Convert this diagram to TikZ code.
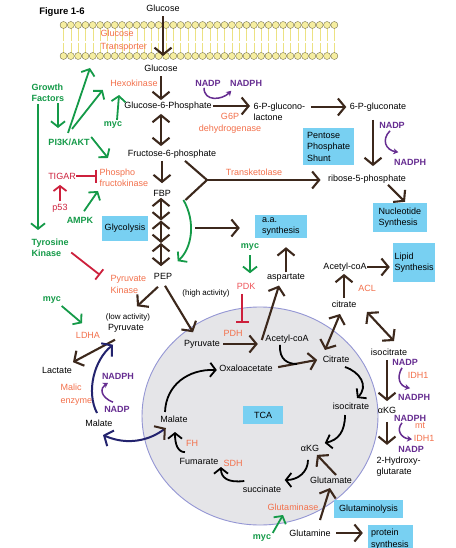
\documentclass[tikz,border=0pt]{standalone}
\usepackage{fontspec}
\setmainfont{Liberation Sans}
\usetikzlibrary{arrows.meta,calc}
\definecolor{brn}{RGB}{60,40,28}
\definecolor{grn}{RGB}{20,154,72}
\definecolor{org}{RGB}{243,112,75}
\definecolor{rd}{RGB}{205,32,60}
\definecolor{pnk}{RGB}{238,85,90}
\definecolor{pur}{RGB}{102,45,145}
\definecolor{nav}{RGB}{35,35,110}
\definecolor{bbox}{RGB}{120,208,242}
\definecolor{mito}{RGB}{229,229,232}
\definecolor{mitoedge}{RGB}{148,150,212}
\definecolor{headc}{RGB}{246,238,160}
\definecolor{headedge}{RGB}{110,105,70}
\definecolor{tailc}{RGB}{236,226,130}
\begin{document}
\begin{tikzpicture}[x=1pt,y=-1pt,
  base/.style={inner sep=0.5pt, font=\fontsize{9}{11}\selectfont},
  lbl/.style={base, text=black},
  enz/.style={base, text=org},
  rtx/.style={base, text=rd},
  ktx/.style={base, text=pnk},
  gtx/.style={base, text=grn, font=\fontsize{9}{11}\selectfont\bfseries},
  ptx/.style={base, text=pur, font=\fontsize{9}{11}\selectfont\bfseries},
  sml/.style={inner sep=0.5pt, text=black, font=\fontsize{8}{9}\selectfont},
  bx/.style={fill=bbox, text=black, font=\fontsize{9}{11.5}\selectfont, inner sep=0pt, align=left},
  barr/.style={draw=brn, line width=2.1pt, -{Straight Barb[length=7pt,width=17pt]}},
  bdbl/.style={draw=brn, line width=2.1pt, {Straight Barb[length=7pt,width=17pt]}-{Straight Barb[length=7pt,width=17pt]}},
  garr/.style={draw=grn, line width=1.8pt, -{Straight Barb[length=5.5pt,width=14pt]}},
  rarr/.style={draw=rd, line width=1.8pt, -{Straight Barb[length=5pt,width=13pt]}},
  karr/.style={draw=black, line width=1.8pt, -{Straight Barb[length=5.5pt,width=14pt]}},
  inh/.style={draw=rd, line width=1.8pt, -{Bar[width=13pt]}},
  parr/.style={draw=pur, line width=1.5pt, -{Stealth[length=5pt,width=6pt]}},
  nvarr/.style={draw=nav, line width=2pt, -{Straight Barb[length=7pt,width=17pt]}},
]
\useasboundingbox (0,0) rectangle (455,548);
\fill[white] (0,0) rectangle (455,548);

% membrane
\foreach \i in {0,...,37}{
  \pgfmathsetmacro{\xx}{63.5+7.32*\i}
  \draw[tailc, line width=0.4pt] (\xx,28) -- (\xx,41) (\xx,53) -- (\xx,43);
}
\foreach \i in {0,...,37}{
  \pgfmathsetmacro{\xx}{63.5+7.32*\i}
  \draw[draw=headedge, fill=headc, line width=0.35pt] (\xx,25) circle (3.5pt) (\xx,56) circle (3.5pt);
}

% mitochondrion
\draw[draw=mitoedge, fill=mito, line width=0.9pt] (260,416) ellipse [x radius=118pt, y radius=109pt];

% ---------- nodes ----------
\node[lbl, font=\fontsize{9.5}{11}\selectfont\bfseries] (fig) at (62,12) {Figure 1-6};
\node[lbl] (glc1) at (163,8) {Glucose};
\node[enz, align=left, anchor=west, font=\fontsize{9}{13}\selectfont] (transp) at (100,40.5) {Glucose\\Transporter};
\node[lbl] (glc2) at (161,68) {Glucose};
\node[enz] (hexo) at (134,83) {Hexokinase};
\node[lbl] (g6p) at (168,106) {Glucose-6-Phosphate};
\node[ptx] (nadp1) at (208,83) {NADP};
\node[ptx] (nadph1) at (246,83) {NADPH};
\node[enz, align=center, font=\fontsize{9}{12}\selectfont] (g6pd) at (230,123) {G6P\\dehydrogenase};
\node[lbl, align=left, anchor=west, font=\fontsize{9}{10.5}\selectfont] (lact) at (253,112) {6-P-glucono-\\lactone};
\node[lbl] (gluc6) at (378,107) {6-P-gluconate};
\node[ptx] (nadp2) at (392,125) {NADP};
\node[ptx] (nadph2) at (410,162) {NADPH};
\node[bx, minimum width=51pt, minimum height=37pt, text width=43pt] (pps) at (328.5,146.5) {Pentose\\Phosphate\\Shunt};
\node[lbl] (r5p) at (367,179) {ribose-5-phosphate};
\node[enz] (transk) at (254,172) {Transketolase};
\node[bx, minimum width=54pt, minimum height=29pt, text width=43pt] (nuc) at (400,217.5) {Nucleotide\\Synthesis};
\node[lbl] (f6p) at (172,154) {Fructose-6-phosphate};
\node[enz, align=left, anchor=west] (pfk) at (99,177.5) {Phospho\\fructokinase};
\node[rtx] (tigar) at (62,176) {TIGAR};
\node[rtx] (p53) at (60,208) {p53};
\node[gtx] (ampk) at (80,220) {AMPK};
\node[gtx] (pi3k) at (69,142) {PI3K/AKT};
\node[gtx, align=left, anchor=west] (gf) at (31,92.5) {Growth\\Factors};
\node[gtx, align=left, anchor=west] (tk) at (31,247.5) {Tyrosine\\Kinase};
\node[gtx] (myc1) at (113,125) {myc};
\node[lbl] (fbp) at (162,193) {FBP};
\node[bx, minimum width=46pt, minimum height=25pt, align=center] (glyco) at (125,228.5) {Glycolysis};
\node[lbl] (pep) at (163,276) {PEP};
\node[bx, minimum width=52pt, minimum height=23pt, text width=38pt] (aa) at (281,226.5) {a.a.\\synthesis};
\node[gtx] (myc2) at (250,247) {myc};
\node[ktx] (pdk) at (246,286) {PDK};
\node[enz] (pdh) at (233,333) {PDH};
\node[lbl] (asp) at (286,278) {aspartate};
\node[enz, align=left, anchor=west, font=\fontsize{9}{12}\selectfont] (pk) at (110,284) {Pyruvate\\Kinase};
\node[sml] (lowact) at (128,317) {(low activity)};
\node[lbl] (pyr1) at (126,328) {Pyruvate};
\node[sml] (highact) at (206,293) {(high activity)};
\node[enz] (ldha) at (88,335) {LDHA};
\node[gtx] (myc3) at (52,300) {myc};
\node[lbl] (lac) at (57,370) {Lactate};
\node[enz, align=left, anchor=west, font=\fontsize{9}{13}\selectfont] (malic) at (60,394.5) {Malic\\enzyme};
\node[ptx] (nadph3) at (118,376) {NADPH};
\node[ptx] (nadp3) at (117,409) {NADP};
\node[lbl] (mal1) at (99,423) {Malate};
\node[lbl] (pyr2) at (202,344) {Pyruvate};
\node[lbl] (acoa1) at (287,339) {Acetyl-coA};
\node[lbl] (oaa) at (246,368) {Oxaloacetate};
\node[lbl] (cit1) at (336,359) {Citrate};
\node[lbl] (iso1) at (351,406) {isocitrate};
\node[lbl] (akg1) at (310,448) {αKG};
\node[lbl] (succ) at (262,489) {succinate};
\node[enz] (sdh) at (233,463) {SDH};
\node[lbl] (fum) at (199,461) {Fumarate};
\node[enz] (fh) at (192,443) {FH};
\node[lbl] (mal2) at (174,419) {Malate};
\node[bx, minimum width=40pt, minimum height=18pt, align=center] (tca) at (263,415) {TCA};
\node[lbl] (acoa2) at (345,267) {Acetyl-coA};
\node[bx, minimum width=42pt, minimum height=39pt, text width=39pt] (lipid) at (414,262.5) {Lipid\\Synthesis};
\node[lbl] (cit2) at (344,304) {citrate};
\node[enz] (acl) at (367,288) {ACL};
\node[lbl] (iso2) at (389,352) {isocitrate};
\node[ptx] (nadp4) at (405,362) {NADP};
\node[enz] (idh1a) at (418,375) {IDH1};
\node[ptx] (nadph4) at (414,397) {NADPH};
\node[lbl] (akg2) at (387,410) {αKG};
\node[ptx] (nadph5) at (410,418) {NADPH};
\node[enz] (mt) at (420,426) {mt};
\node[enz] (idh1b) at (424,438) {IDH1};
\node[ptx] (nadp5) at (411,449) {NADP};
\node[lbl, align=left, anchor=west] (hg) at (376,466.5) {2-Hydroxy-\\glutarate};
\node[lbl] (glu) at (331,480) {Glutamate};
\node[lbl] (gln) at (310,533) {Glutamine};
\node[enz] (gase) at (293,507) {Glutaminase};
\node[gtx] (myc4) at (262,538) {myc};
\node[bx, minimum width=69pt, minimum height=18pt, align=center] (glnlys) at (368.5,509) {Glutaminolysis};
\node[bx, minimum width=45pt, minimum height=28pt, text width=39pt] (prot) at (390.5,539) {protein\\synthesis};

% ---------- brown connectors ----------
\draw[barr, shorten <=4pt, shorten >=8pt] (glc1.south) -- (glc1.south |- glc2.north);
\draw[barr, shorten <=4pt, shorten >=1pt] (glc2.south) -- (glc2.south |- g6p.north);
\draw[bdbl, shorten <=3pt, shorten >=3pt] (glc2 |- g6p.south) -- (glc2 |- f6p.north);
\draw[barr, shorten <=2pt, shorten >=6pt] (fbp |- f6p.south) -- (fbp.north);
\coordinate (g1) at (161,220.5);
\coordinate (g2) at (161,243);
\draw[bdbl, shorten <=1pt] (fbp.south -| g1) -- (g1);
\draw[bdbl] (g1) -- (g2);
\draw[bdbl, shorten >=6pt] (g2) -- (g2 |- pep.north);
\draw[barr, shorten <=1pt, shorten >=3pt] (g6p.east) -- (lact.west |- g6p.east);
\draw[barr, shorten <=5pt, shorten >=3pt] (lact.east |- gluc6.west) -- (gluc6.west);
\coordinate (v1) at ($(gluc6.south)+(-5,0)$);
\draw[barr, shorten <=8pt, shorten >=8pt] (v1) -- (v1 |- r5p.north);
\coordinate (tkj) at (207,180);
\draw[brn, line width=2.1pt] ($(f6p.south)+(13,2)$) -- (tkj) -- ($(fbp.east)+(14,7)$);
\draw[barr, shorten >=7pt] (tkj) -- (tkj -| r5p.west);
\draw[barr] ($(r5p.south)+(21,1)$) -- ($(nuc.north)+(5,-1)$);
\coordinate (glo) at (195,228);
\draw[barr, shorten >=15pt] (glo) -- (glo -| aa.west);
\draw[barr, shorten <=1pt, shorten >=9pt] (asp.north) -- (asp.north |- aa.south);
\draw[barr] ($(acoa1.west)+(-3,1)$) -- ($(asp.south)+(-7,3)$);
\draw[barr, shorten <=3pt, shorten >=7pt] (pyr2.east) -- (pyr2.east -| acoa1.west);
\draw[barr, shorten <=5pt, shorten >=5pt] (oaa.east) -- (cit1.west);
\draw[black, line width=1.8pt] ($(acoa1.south)+(-7,1)$) .. controls (279,360) and (288,364) .. (297,364);
\draw[barr] ($(pep.south)+(-5,7)$) -- ($(pyr1.north)+(11,-17)$);
\draw[barr] ($(pep.south)+(2,6)$) -- ($(pyr2.north)+(-9,-7)$);
\draw[barr] ($(pyr1.south)+(-11,7)$) -- ($(lac.north)+(16,-4)$);
\draw[barr, shorten <=2pt, shorten >=2pt] (cit2.north) -- (cit2.north |- acoa2.south);
\draw[barr, shorten >=3pt] (acoa2.east) -- (acoa2.east -| lipid.west);
\draw[bdbl] ($(cit2.south)+(-4,6)$) -- ($(cit1.north)+(-11,-5)$);
\draw[bdbl] ($(cit2.east)+(10,8)$) -- ($(iso2.north)+(5,-7)$);
\draw[barr, shorten <=4pt, shorten >=5pt] (iso2.south -| akg2) -- (akg2.north);
\draw[barr, shorten <=8pt] (akg2.south) -- ++(0,31);
\draw[barr] ($(glu.north)+(5,-1)$) -- ($(akg1.south)+(7,3)$);
\draw[barr] ($(gln.north)+(10,-9)$) -- ($(glu.south)+(-1,4)$);
\draw[barr, shorten <=5pt, shorten >=5pt] (gln.east) -- (gln.east -| prot.west);

% ---------- green ----------
\coordinate (gtin) at (90,68);
\draw[garr] ($(gf.south west)+(7,2)$) -- ($(tk.north west)+(7,-8)$);
\draw[garr] ($(gf.south west)+(27,1)$) -- ($(pi3k.north)+(-11,-10)$);
\draw[garr] ($(pi3k.north)+(-1,-5)$) -- (gtin);
\draw[garr] ($(pi3k.north)+(3,-9)$) -- ($(hexo.west)+(-7,7)$);
\draw[garr] ($(myc1.north)+(4,-1)$) -- ($(hexo.south)+(-15,8)$);
\draw[garr] ($(pi3k.north east)+(1,-1)$) -- ($(pfk.north west)+(9,-10)$);
\draw[garr] ($(ampk.north)+(4,-5)$) -- ($(pfk.south west)+(-1,4)$);
\draw[garr] ($(fbp.east)+(12,7)$) .. controls (196,222) and (192,248) .. ($(pep.north east)+(5,-11)$);
\draw[garr, shorten <=4pt, shorten >=9pt] (myc2.south) -- (myc2.south |- pdk.north);
\draw[garr] ($(myc3.east)+(0,6)$) -- ($(ldha.north)+(-6,-8)$);
\draw[garr] ($(myc4.north east)+(1,-1)$) -- ($(gase.south)+(-10,4)$);

% ---------- red ----------
\draw[inh, shorten >=2pt] (tigar.east) -- (tigar.east -| pfk.west);
\draw[rarr, shorten <=2pt, shorten >=5pt] (p53.north) -- (p53.north |- tigar.south);
\draw[inh] ($(tk.east)+(2,5)$) -- ($(pk.west)+(-10,-9)$);
\coordinate (pk1) at ($(pdk.south)+(-4,4)$);
\coordinate (pk2) at ($(pdh.north)+(9,-6)$);
\draw[inh] (pk1) -- (pk1 |- pk2);

% ---------- TCA (black) ----------
\draw[karr] ($(mal2.north)+(-9,-3)$) .. controls (166,385) and (188,369) .. ($(oaa.west)+(-2,2)$);
\draw[karr] ($(cit1.south)+(9,4)$) .. controls (360,372) and (369,386) .. ($(iso1.north)+(6,-4)$);
\draw[karr] ($(iso1.south)+(-6,5)$) .. controls (345,432) and (338,440) .. ($(akg1.east)+(5,-5)$);
\draw[karr] ($(akg1.south)+(-2,8)$) .. controls (308,472) and (298,480) .. ($(succ.north east)+(3,-5)$);
\draw[karr] ($(succ.north west)+(2,-4)$) .. controls (228,483) and (221,478) .. ($(fum.east)+(2,6)$);
\draw[karr] ($(fum.north)+(-14,-5)$) .. controls (178,452) and (175,445) .. ($(mal2.south)+(1,9)$);

% ---------- purple ----------
\draw[parr] ($(nadp1.south)+(-4,1)$) .. controls (204,102) and (222,100) .. ($(nadph1.south west)+(2,4)$);
\draw[parr] ($(nadp2.south)+(-2,2)$) .. controls (381,140) and (386,150) .. ($(nadph2.north west)+(5,-6)$);
\draw[parr] ($(nadp3.north)+(-4,-3)$) .. controls (100,397) and (100,388) .. ($(nadph3.south)+(-10,3)$);
\draw[parr] ($(nadp4.south)+(-3,2)$) .. controls (396,378) and (400,386) .. ($(nadph4.north)+(-4,-5)$);
\draw[parr] ($(nadph5.south)+(-8,1)$) .. controls (396,430) and (401,438) .. ($(nadp5.north)+(1,-6)$);

% ---------- navy ----------
\draw[nvarr] ($(mal1.north)+(-2,-6)$) .. controls (86,392) and (94,360) .. ($(pyr1.south)+(-13,12)$);
\draw[draw=nav, line width=2pt, {Straight Barb[length=7pt,width=17pt]}-{Straight Barb[length=7pt,width=17pt,color=brn]}] ($(mal1.south)+(4,8)$) .. controls (128,446) and (150,440) .. ($(mal2.south west)+(6,5)$);
\end{tikzpicture}
\end{document}
